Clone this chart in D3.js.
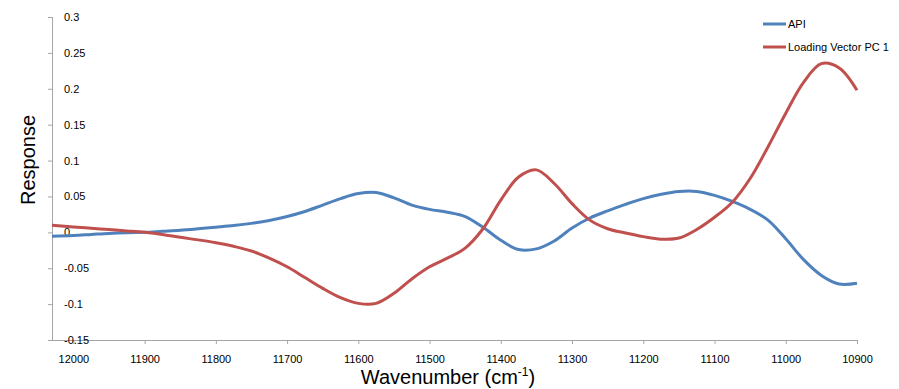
<!DOCTYPE html>
<html>
<head>
<meta charset="utf-8">
<script src="https://cdn.jsdelivr.net/npm/d3@7"></script>
<style>
    body { margin: 0; background: #fff; }
    svg { display: block; font-family: 'Liberation Sans', Arial, sans-serif; }
</style>
</head>
<body>
<svg id="chart"></svg>
<script>
// wavenumbers (cm-1), every 25 units
const wavenumbers = [
    12030, 12000, 11975, 11950, 11925, 11900, 11875, 11850, 11825, 11800,
    11775, 11750, 11725, 11700, 11675, 11650, 11625, 11600, 11575, 11550,
    11525, 11500, 11475, 11450, 11425, 11400, 11375, 11350, 11325, 11300,
    11275, 11250, 11225, 11200, 11175, 11150, 11125, 11100, 11075, 11050,
    11025, 11000, 10975, 10950, 10925, 10900
];

const apiValues = [
    -0.0056, -0.0045, -0.003, -0.0015, -0.0005, 0.0, 0.0015, 0.003, 0.005, 0.0072,
    0.0095, 0.0125, 0.0165, 0.022, 0.029, 0.038, 0.047, 0.054, 0.0555, 0.048,
    0.038, 0.032, 0.028, 0.022, 0.007, -0.011, -0.024, -0.023, -0.012, 0.006,
    0.020, 0.030, 0.039, 0.047, 0.053, 0.057, 0.057, 0.0515, 0.043, 0.032,
    0.017, -0.009, -0.038, -0.060, -0.072, -0.071
];

const loadingValues = [
    0.0098, 0.0075, 0.0057, 0.0038, 0.002, 0.0, -0.003, -0.007, -0.0105, -0.0145,
    -0.0195, -0.026, -0.036, -0.048, -0.063, -0.078, -0.091, -0.099, -0.099, -0.085,
    -0.065, -0.048, -0.036, -0.022, 0.005, 0.045, 0.077, 0.087, 0.068, 0.040,
    0.017, 0.005, -0.001, -0.006, -0.0095, -0.008, 0.004, 0.021, 0.042, 0.075,
    0.119, 0.166, 0.209, 0.235, 0.229, 0.198
];

const xTicks = [12000, 11900, 11800, 11700, 11600, 11500, 11400, 11300, 11200, 11100, 11000, 10900];
const yTicks = [-0.15, -0.1, -0.05, 0, 0.05, 0.1, 0.15, 0.2, 0.25, 0.3];

const series = [
    { name: 'API', values: apiValues, color: '#4F81BD' },
    { name: 'Loading Vector PC 1', values: loadingValues, color: '#C0504D' }
];

const width = 899;
const height = 389;
const axisColor = '#a6a6a6';

const svg = d3.select('#chart')
        .attr('width', width)
        .attr('height', height);

const x = d3.scaleLinear()
    .domain([12030, 10900])
    .range([52, 857]);
const y = d3.scaleLinear()
    .domain([-0.15, 0.3])
    .range([340, 17]);

// x axis (labels under the ticks)
const xAxis = svg.append('g')
    .attr('transform', `translate(0, ${y(-0.15)})`)
    .call(d3.axisBottom(x).tickValues(xTicks).tickSize(4).tickPadding(11).tickFormat(d3.format('d')));
xAxis.select('.domain')
    .attr('d', `M48,0.5H${x(10900)}`)
    .attr('stroke', axisColor);
xAxis.selectAll('.tick line').attr('stroke', axisColor);
xAxis.selectAll('.tick text')
    .attr('fill', '#000')
    .style('font-size', '11px');

// y axis: ticks on the left, labels inside the plot
const yAxis = svg.append('g')
    .attr('transform', `translate(${x(12030)}, 0)`)
    .call(d3.axisLeft(y).tickValues(yTicks).tickSize(4).tickFormat(d => `${+d.toFixed(2)}`));
yAxis.select('.domain')
    .attr('d', `M0.5,${y(0.3)}V${y(-0.15)}`)
    .attr('stroke', axisColor);
yAxis.selectAll('.tick line').attr('stroke', axisColor);
yAxis.selectAll('.tick text')
    .attr('x', 12)
    .attr('fill', '#000')
    .style('text-anchor', 'start')
    .style('font-size', '11px');

// lines
const line = d3.line()
    .x((d, i) => x(wavenumbers[i]))
    .y(d => y(d))
    .curve(d3.curveCatmullRom);

svg.selectAll('.series')
    .data(series)
    .enter()
    .append('path')
        .attr('class', 'series')
        .attr('fill', 'none')
        .attr('stroke', d => d.color)
        .attr('stroke-width', 3)
        .attr('stroke-linejoin', 'round')
        .attr('d', d => line(d.values));

// legend
const legend = svg.selectAll('.legend')
    .data(series)
    .enter()
    .append('g')
        .attr('class', 'legend')
        .attr('transform', (d, i) => `translate(763, ${24 + i * 23})`);
legend.append('line')
    .attr('x2', 23)
    .attr('stroke', d => d.color)
    .attr('stroke-width', 3);
legend.append('text')
    .attr('x', 25)
    .attr('dy', '0.35em')
    .style('font-size', '11px')
    .text(d => d.name);

// axis titles
svg.append('text')
    .attr('transform', 'translate(35, 160) rotate(-90)')
    .style('text-anchor', 'middle')
    .style('font-size', '20px')
    .text('Response');

const xTitle = svg.append('text')
    .attr('x', 448)
    .attr('y', 384)
    .style('text-anchor', 'middle')
    .style('font-size', '20px');
xTitle.append('tspan').text('Wavenumber (cm');
xTitle.append('tspan')
    .attr('dy', -8)
    .style('font-size', '12px')
    .text('-1');
xTitle.append('tspan')
    .attr('dy', 8)
    .text(')');
</script>
</body>
</html>
